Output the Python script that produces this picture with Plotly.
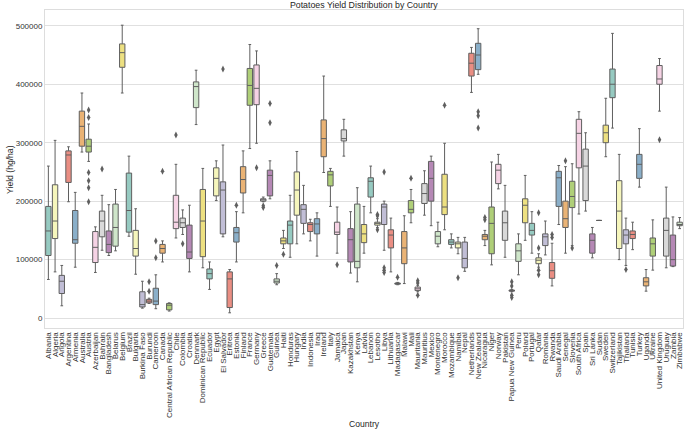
import colorsys
import plotly.graph_objects as go

countries = ["Albania", "Algeria", "Angola", "Argentina", "Armenia", "Australia", "Austria", "Azerbaijan",
             "Bahrain", "Bangladesh", "Belarus", "Belgium", "Brazil", "Bulgaria", "Burkina Faso", "Burundi",
             "Cameroon", "Canada", "Central African Republic", "Chile", "Colombia", "Croatia", "Denmark",
             "Dominican Republic", "Ecuador", "Egypt", "El Salvador", "Eritrea", "Estonia", "Finland", "France",
             "Germany", "Greece", "Guatemala", "Guinea", "Haiti", "Honduras", "Hungary", "India", "Indonesia",
             "Iraq", "Ireland", "Italy", "Jamaica", "Japan", "Kazakhstan", "Kenya", "Latvia", "Lebanon",
             "Lesotho", "Libya", "Lithuania", "Madagascar", "Malawi", "Mali", "Mauritania", "Mauritius",
             "Mexico", "Montenegro", "Morocco", "Mozambique", "Namibia", "Nepal", "Netherlands", "New Zealand",
             "Nicaragua", "Niger", "Norway", "Pakistan", "Papua New Guinea", "Peru", "Poland", "Portugal",
             "Qatar", "Romania", "Rwanda", "Saudi Arabia", "Senegal", "Slovenia", "South Africa", "Spain",
             "Sri Lanka", "Sudan", "Sweden", "Switzerland", "Tajikistan", "Thailand", "Tunisia", "Turkey",
             "Uganda", "Ukraine", "United Kingdom", "Uruguay", "Zambia", "Zimbabwe"]

lower = [66000, 79000, 21000, 199000, 87000, 284000, 268000, 78000, 116000, 107000, 115000, 385000, 140000,
         75000, 17000, 25000, 16000, 96000, 12000, 137000, 143000, 79000, 331000, 86000, 49000, 201000,
         139000, 9000, 96000, 180000, 290000, 299000, 199000, 204000, 57000, 119000, 104000, 127000, 144000,
         132000, 106000, 249000, 191000, 111000, 277000, 77000, 62000, 111000, 180000, 155000, 116000, 79000,
         57000, 59000, 163000, 45000, 176000, 158000, 122000, 151000, 120000, 110000, 80000, 386000, 417000,
         124000, 91000, 221000, 104000, 45000, 74000, 133000, 111000, 87000, 108000, 55000, 160000, 111000,
         124000, 178000, 183000, 103000, 167000, 276000, 325000, 100000, 90000, 117000, 224000, 46000,
         82000, 354000, 86000, 88000, 153000]
q1 = [107000, 136000, 42000, 232000, 128000, 294000, 284000, 95000, 139000, 112000, 123000, 429000, 147000,
      106000, 19000, 26000, 23000, 111000, 14000, 153000, 155000, 102000, 360000, 105000, 67000, 209000,
      144000, 18000, 130000, 214000, 364000, 365000, 200000, 209000, 60000, 127000, 127000, 176000, 162000,
      148000, 144000, 276000, 226000, 143000, 303000, 96000, 86000, 129000, 207000, 159000, 160000, 120000,
      58000, 93000, 180000, 47000, 196000, 200000, 127000, 177000, 126000, 120000, 86000, 414000, 425000,
      134000, 110000, 230000, 133000, 46000, 97000, 163000, 142000, 93000, 124000, 68000, 191000, 155000,
      189000, 257000, 201000, 111000, 167000, 300000, 377000, 119000, 127000, 136000, 239000, 55000,
      106000, 400000, 106000, 89000, 158000]
median = [149000, 166000, 63000, 279000, 134000, 328000, 294000, 121000, 166000, 126000, 155000, 454000,
          184000, 119000, 23000, 29000, 29000, 119000, 22000, 164000, 163000, 113000, 396000, 166000, 76000,
          239000, 219000, 67000, 146000, 237000, 398000, 393000, 203000, 244000, 63000, 132000, 159000,
          219000, 186000, 160000, 161000, 307000, 245000, 147000, 307000, 134000, 97000, 144000, 234000,
          162000, 190000, 142000, 59000, 120000, 186000, 50000, 213000, 239000, 140000, 190000, 130000,
          127000, 102000, 436000, 450000, 140000, 162000, 253000, 163000, 47000, 115000, 193000, 150000,
          99000, 139000, 81000, 240000, 170000, 208000, 316000, 260000, 133000, 167000, 317000, 400000,
          183000, 142000, 143000, 263000, 62000, 127000, 409000, 150000, 100000, 160000]
q3 = [191000, 228000, 73000, 286000, 184000, 354000, 306000, 148000, 183000, 149000, 195000, 469000, 248000,
      150000, 45000, 32000, 51000, 126000, 25000, 210000, 171000, 159000, 404000, 220000, 84000, 257000,
      233000, 79000, 155000, 259000, 427000, 433000, 204000, 253000, 67000, 137000, 166000, 250000, 194000,
      163000, 170000, 339000, 251000, 164000, 322000, 153000, 195000, 160000, 240000, 164000, 195000,
      151000, 60000, 148000, 201000, 53000, 230000, 268000, 148000, 246000, 134000, 130000, 130000, 453000,
      470000, 143000, 190000, 263000, 183000, 48000, 127000, 204000, 162000, 103000, 144000, 95000, 251000,
      200000, 234000, 340000, 289000, 144000, 167000, 330000, 426000, 235000, 151000, 149000, 280000,
      69000, 137000, 432000, 171000, 142000, 164000]
upper = [260000, 304000, 90000, 293000, 215000, 385000, 332000, 156000, 210000, 194000, 220000, 501000,
         277000, 187000, 63000, 34000, 74000, 132000, 26000, 263000, 185000, 193000, 424000, 256000, 96000,
         269000, 296000, 83000, 182000, 286000, 468000, 457000, 207000, 269000, 76000, 150000, 210000,
         285000, 227000, 169000, 180000, 414000, 256000, 190000, 340000, 182000, 223000, 191000, 260000,
         170000, 200000, 171000, 61000, 175000, 220000, 56000, 252000, 277000, 164000, 299000, 144000,
         138000, 138000, 463000, 495000, 150000, 267000, 280000, 227000, 49000, 144000, 244000, 182000,
         110000, 166000, 128000, 261000, 259000, 264000, 353000, 317000, 155000, 167000, 376000, 487000,
         280000, 171000, 164000, 324000, 83000, 168000, 444000, 224000, 173000, 172000]

outlier_country = ["Austria", "Austria", "Austria", "Austria", "Austria", "Austria", "Bahrain",
                   "Burundi", "Burundi", "Cameroon", "Cameroon", "Canada", "Chile", "Colombia",
                   "El Salvador", "Estonia", "Germany", "Greece", "Greece", "Guatemala", "Guatemala",
                   "Guinea", "Haiti", "Jamaica", "Lesotho", "Lesotho", "Lesotho", "Libya", "Libya", "Libya",
                   "Libya", "Madagascar", "Mali", "Mauritania", "Mauritania", "Mauritania", "Morocco",
                   "Namibia", "New Zealand", "New Zealand", "New Zealand", "Nicaragua", "Nicaragua",
                   "Papua New Guinea", "Papua New Guinea", "Papua New Guinea", "Papua New Guinea",
                   "Qatar", "Qatar", "Qatar", "Qatar", "Rwanda", "Rwanda", "Senegal", "Slovenia",
                   "Thailand", "United Kingdom"]
outlier_value = [356000, 343000, 249000, 235000, 223000, 199000, 255000,
                 62000, 46000, 132000, 103000, 251000, 313000, 127000,
                 426000, 193000, 257000, 192000, 189000, 367000, 334000,
                 90000, 109000, 91000, 177000, 175000, 151000, 250000, 86000, 82000,
                 78000, 70000, 239000, 64000, 60000, 39000, 364000,
                 69000, 353000, 346000, 325000, 172000, 168000,
                 62000, 55000, 39000, 35000,
                 180000, 120000, 82000, 74000, 143000, 138000, 269000, 120000,
                 83000, 305000]

set3 = ["#8dd3c7", "#ffffb3", "#bebada", "#fb8072", "#80b1d3", "#fdb462",
        "#b3de69", "#fccde5", "#d9d9d9", "#bc80bd", "#ccebc5", "#ffed6f"]


def desaturate(hx, prop=0.75):
    r, g, b = (int(hx[i:i + 2], 16) / 255 for i in (1, 3, 5))
    h, l, s = colorsys.rgb_to_hls(r, g, b)
    r, g, b = colorsys.hls_to_rgb(h, l, s * prop)
    return "rgb({},{},{})".format(round(r * 255), round(g * 255), round(b * 255))


palette = [desaturate(c) for c in set3]
edge = "#5f5f5f"
FONT = "Liberation Sans, Arial, sans-serif"

fig = go.Figure()
for i, c in enumerate(countries):
    fig.add_trace(go.Box(
        x=[c], q1=[q1[i]], median=[median[i]], q3=[q3[i]],
        lowerfence=[lower[i]], upperfence=[upper[i]],
        fillcolor=palette[i % 12], line=dict(color=edge, width=1),
        width=0.8, whiskerwidth=0.5, boxpoints=False, showlegend=False, hoverinfo="skip"))

fig.add_trace(go.Scatter(
    x=outlier_country, y=outlier_value, mode="markers",
    marker=dict(symbol="diamond-tall", size=5, color=edge),
    showlegend=False, hoverinfo="skip"))

fig.update_layout(
    width=685, height=431,
    margin=dict(l=45, r=2, t=10, b=103, autoexpand=False),
    plot_bgcolor="white", paper_bgcolor="white",
    boxmode="overlay",
    font=dict(family=FONT, color="#262626", size=8),
    title=dict(text="Potatoes Yield Distribution by Country", x=0.531, xanchor="center",
               y=0.988, yanchor="middle", yref="container",
               font=dict(family=FONT, size=8.8, color="#262626")),
    xaxis=dict(categoryorder="array", categoryarray=countries, range=[-0.5, 94.5],
               tickmode="linear", tick0=0, dtick=1, automargin=False,
               tickangle=-90, tickfont=dict(size=8, color="#333333"),
               showgrid=False, showline=True, mirror=True, linecolor="#dddddd", linewidth=1,
               ticks=""),
    yaxis=dict(range=[-17000, 527000], dtick=100000, tickformat="d", automargin=False,
               tickfont=dict(size=8, color="#333333"),
               showgrid=True, gridcolor="#e0e0e0", gridwidth=1, zeroline=False,
               showline=True, mirror=True, linecolor="#dddddd", linewidth=1, ticks=""),
    annotations=[
        dict(text="Country", xref="paper", yref="paper", x=0.5, y=-0.302,
             xanchor="center", yanchor="middle", showarrow=False,
             font=dict(family=FONT, size=8.6, color="#262626")),
        dict(text="Yield (hg/ha)", xref="paper", yref="paper", x=-0.055, y=0.5,
             xanchor="center", yanchor="middle", textangle=-90, showarrow=False,
             font=dict(family=FONT, size=8.6, color="#262626")),
    ],
)

fig.write_html("out.html", config={"displayModeBar": False, "staticPlot": True},
               post_script="document.body.style.margin='0';document.body.style.overflow='hidden';")
